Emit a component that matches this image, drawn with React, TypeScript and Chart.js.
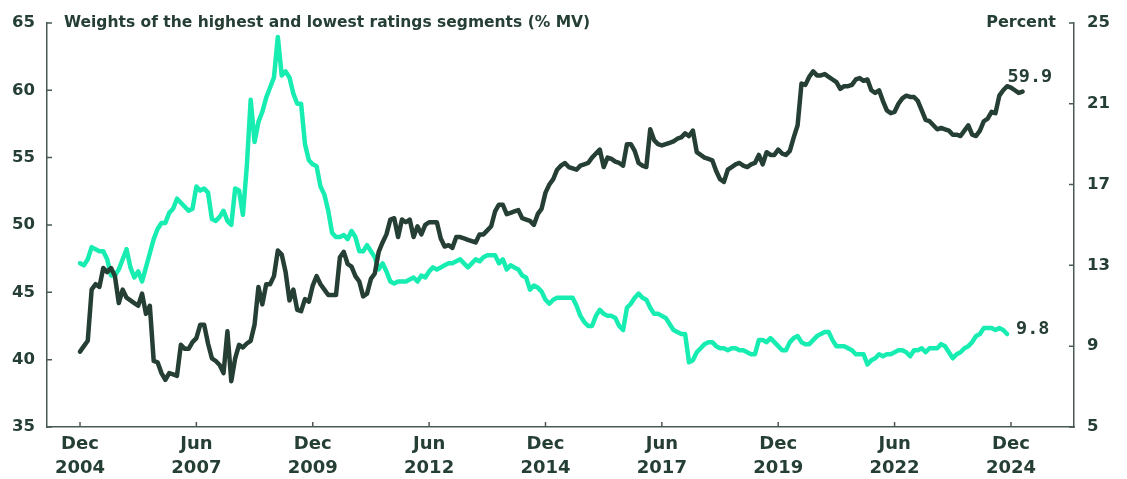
import React, { useEffect, useRef } from "react";
import { Chart, registerables } from "chart.js";

Chart.register(...registerables);

// Month offsets are counted from Dec 2004 (= 0)
const highestRatingsWeights = [
  40.6, 41.0, 41.4, 45.2, 45.6, 45.4, 46.8, 46.5, 46.8, 46.2,
  44.2, 45.2, 44.6, 44.4, 44.2, 44.0, 44.9, 43.4, 44.0, 39.9,
  39.8, 39.0, 38.5, 39.0, 38.9, 38.8, 41.1, 40.8, 40.8, 41.3,
  41.6, 42.6, 42.6, 41.2, 40.1, 39.9, 39.6, 39.0, 42.1, 38.4,
  40.1, 41.1, 40.9, 41.2, 41.4, 42.6, 45.4, 44.1, 45.6, 45.6,
  46.2, 48.1, 47.8, 46.5, 44.4, 45.2, 43.7, 43.6, 44.5, 44.3,
  45.5, 46.2, 45.6, 45.2, 44.8, 44.8, 44.8, 47.6, 48.0, 47.1,
  46.9, 46.2, 45.8, 44.7, 44.9, 46.0, 46.4, 48.0, 48.7, 49.3,
  50.4, 50.5, 49.1, 50.4, 50.2, 50.4, 49.1, 49.9, 49.3, 50.0,
  50.2, 50.2, 50.2, 49.0, 48.4, 48.5, 48.3, 49.1, 49.1, 49.0,
  48.9, 48.8, 48.7, 49.3, 49.3, 49.6, 49.9, 51.0, 51.5, 51.5,
  50.8, 50.9, 51.0, 51.1, 50.5, 50.4, 50.3, 50.0, 50.8, 51.2,
  52.4, 53.0, 53.4, 54.1, 54.4, 54.6, 54.3, 54.2, 54.1, 54.4,
  54.5, 54.6, 55.0, 55.3, 55.6, 54.3, 55.0, 54.9, 54.7, 54.6,
  54.4, 56.0, 56.0, 55.5, 54.6, 54.4, 54.3, 57.1, 56.3, 56.0,
  55.9, 56.0, 56.1, 56.2, 56.4, 56.5, 56.8, 56.6, 57.0, 55.4,
  55.2, 55.0, 54.9, 54.8, 54.0, 53.4, 53.2, 54.1, 54.3, 54.5,
  54.6, 54.4, 54.3, 54.5, 54.6, 55.2, 54.5, 55.4, 55.2, 55.2,
  55.6, 55.3, 55.2, 55.5, 56.5, 57.4, 60.5, 60.4, 61.0, 61.4,
  61.1, 61.1, 61.2, 61.0, 60.8, 60.6, 60.1, 60.3, 60.3, 60.4,
  60.8, 60.9, 60.7, 60.8, 60.0, 59.8, 60.0, 59.2, 58.5, 58.3,
  58.4, 59.0, 59.4, 59.6, 59.5, 59.5, 59.2, 58.5, 57.8, 57.7,
  57.4, 57.1, 57.2, 57.1, 57.0, 56.7, 56.7, 56.6, 57.0, 57.4,
  56.7, 56.6, 57.0, 57.7, 57.9, 58.4, 58.3, 59.6, 60.0, 60.3,
  60.2, 60.0, 59.8, 59.9,
];

const lowestRatingsWeights = [
  13.1, 13.0, 13.3, 13.9, 13.8, 13.7, 13.7, 13.3, 12.5, 12.5,
  12.8, 13.3, 13.8, 12.9, 12.4, 12.7, 12.2, 12.9, 13.6, 14.3,
  14.8, 15.1, 15.1, 15.6, 15.8, 16.3, 16.1, 15.9, 15.7, 15.8,
  16.9, 16.7, 16.8, 16.6, 15.3, 15.2, 15.4, 15.7, 15.2, 15.0,
  16.8, 16.7, 15.5, 17.9, 21.2, 19.1, 20.1, 20.6, 21.3, 21.8,
  22.3, 24.3, 22.4, 22.6, 22.3, 21.5, 21.0, 21.0, 19.0, 18.2,
  18.0, 17.9, 16.9, 16.5, 15.7, 14.6, 14.4, 14.4, 14.5, 14.3,
  14.7, 14.4, 13.7, 13.7, 14.0, 13.7, 13.4, 12.8, 13.1, 12.7,
  12.2, 12.1, 12.2, 12.2, 12.2, 12.3, 12.4, 12.2, 12.5, 12.4,
  12.7, 12.9, 12.8, 12.9, 13.0, 13.1, 13.1, 13.2, 13.3, 13.1,
  12.9, 13.1, 13.3, 13.2, 13.4, 13.5, 13.5, 13.5, 13.1, 13.3,
  12.8, 13.0, 12.9, 12.8, 12.5, 12.4, 11.8, 12.0, 11.9, 11.7,
  11.3, 11.1, 11.3, 11.4, 11.4, 11.4, 11.4, 11.4, 11.0, 10.5,
  10.2, 10.0, 10.0, 10.5, 10.8, 10.6, 10.5, 10.5, 10.4, 10.0,
  9.8, 10.9, 11.1, 11.4, 11.6, 11.4, 11.3, 10.9, 10.6, 10.6,
  10.5, 10.4, 10.1, 9.8, 9.7, 9.6, 9.6, 8.2, 8.3, 8.7,
  8.9, 9.1, 9.2, 9.2, 9.0, 8.9, 8.9, 8.8, 8.9, 8.9,
  8.8, 8.8, 8.7, 8.6, 8.6, 9.3, 9.3, 9.2, 9.4, 9.2,
  9.0, 8.8, 8.8, 9.2, 9.4, 9.5, 9.2, 9.1, 9.1, 9.3,
  9.5, 9.6, 9.7, 9.7, 9.3, 9.0, 9.0, 9.0, 8.9, 8.8,
  8.6, 8.6, 8.6, 8.1, 8.3, 8.4, 8.6, 8.5, 8.6, 8.6,
  8.7, 8.8, 8.8, 8.7, 8.5, 8.8, 8.8, 8.9, 8.7, 8.9,
  8.9, 8.9, 9.1, 9.0, 8.7, 8.4, 8.6, 8.7, 8.9, 9.0,
  9.2, 9.5, 9.6, 9.9, 9.9, 9.9, 9.8, 9.9, 9.8, 9.6,
];

const xTickMonths = [0, 30, 60, 90, 120, 150, 180, 210, 240];
const xTickLabels = [
  ["Dec", "2004"], ["Jun", "2007"], ["Dec", "2009"], ["Jun", "2012"],
  ["Dec", "2014"], ["Jun", "2017"], ["Dec", "2019"], ["Jun", "2022"],
  ["Dec", "2024"],
];
const leftTicks = [35, 40, 45, 50, 55, 60, 65];
const rightTicks = [5, 9, 13, 17, 21, 25];

const titleText = "Weights of the highest and lowest ratings segments (% MV)";
const rightAxisTitle = "Percent";
const highestEndLabel = "59.9";
const lowestEndLabel = "9.8";

const DARK = "#263f35";
const MINT = "#17ecb1";
const AXIS = "#4a5a53";

export default function App() {
  const ref = useRef<HTMLCanvasElement | null>(null);

  useEffect(() => {
    if (!ref.current) return;

    const overlay = {
      id: "overlay",
      afterDraw(chart: any) {
        const ctx = chart.ctx;
        const x = chart.scales.x;
        const yl = chart.scales.y;
        const yr = chart.scales.y1;
        const area = chart.chartArea;
        ctx.save();
        ctx.strokeStyle = AXIS;
        ctx.lineWidth = 1.5;
        ctx.beginPath();
        leftTicks.forEach((v) => {
          const py = yl.getPixelForValue(v);
          ctx.moveTo(area.left, py);
          ctx.lineTo(area.left + 5, py);
        });
        rightTicks.forEach((v) => {
          const py = yr.getPixelForValue(v);
          ctx.moveTo(area.right, py);
          ctx.lineTo(area.right - 5, py);
        });
        xTickMonths.forEach((m) => {
          const px = x.getPixelForValue(m);
          ctx.moveTo(px, area.bottom);
          ctx.lineTo(px, area.bottom - 5);
        });
        ctx.stroke();

        ctx.fillStyle = DARK;
        ctx.textBaseline = "alphabetic";
        ctx.font = "bold 15.5px 'DejaVu Sans'";
        ctx.textAlign = "left";
        ctx.fillText(titleText, 64, 27);
        ctx.textAlign = "right";
        ctx.font = "bold 16px 'DejaVu Sans'";
        ctx.fillText(rightAxisTitle, 1056, 27);

        ctx.font = "bold 18.5px 'DejaVu Sans Mono'";
        ctx.textAlign = "left";
        const hi = highestRatingsWeights.length - 1;
        const hx = x.getPixelForValue(hi);
        const hy = yl.getPixelForValue(highestRatingsWeights[hi]);
        ctx.fillText(highestEndLabel, hx - 15, hy - 10);
        const lo = lowestRatingsWeights.length - 1;
        const lx = x.getPixelForValue(lo);
        const ly = yr.getPixelForValue(lowestRatingsWeights[lo]);
        ctx.fillText(lowestEndLabel, lx + 9, ly);
        ctx.restore();
      },
    };

    const tickFont = { family: "'DejaVu Sans'", weight: "bold" as const, size: 16.5 };

    const chart = new Chart(ref.current, {
      type: "line",
      data: {
        datasets: [
          {
            label: "Highest ratings",
            data: highestRatingsWeights.map((v, i) => ({ x: i, y: v })),
            yAxisID: "y",
            borderColor: DARK,
            borderWidth: 4.5,
            pointRadius: 0,
            tension: 0,
            borderJoinStyle: "round",
            borderCapStyle: "round",
            order: 0,
          },
          {
            label: "Lowest ratings",
            data: lowestRatingsWeights.map((v, i) => ({ x: i, y: v })),
            yAxisID: "y1",
            borderColor: MINT,
            borderWidth: 4.5,
            pointRadius: 0,
            tension: 0,
            borderJoinStyle: "round",
            borderCapStyle: "round",
            order: 1,
          },
        ],
      },
      options: {
        responsive: false,
        animation: false,
        layout: { padding: { top: 19, left: 0, right: 0, bottom: 0 } },
        plugins: { legend: { display: false }, tooltip: { enabled: false }, title: { display: false } },
        scales: {
          x: {
            type: "linear",
            min: -8.51,
            max: 256.25,
            grid: { display: false, drawTicks: false },
            border: { display: true, color: AXIS, width: 1.5 },
            afterBuildTicks: (s: any) => {
              s.ticks = xTickMonths.map((v) => ({ value: v }));
            },
            afterFit: (s: any) => {
              s.height = 52;
            },
            ticks: {
              autoSkip: false,
              maxRotation: 0,
              padding: 6,
              color: DARK,
              font: { family: "'DejaVu Sans'", weight: "bold", size: 18, lineHeight: 1.3 },
              callback: (value: any) => {
                const i = xTickMonths.indexOf(Number(value));
                return i >= 0 ? xTickLabels[i] : "";
              },
            },
          },
          y: {
            position: "left",
            min: 35,
            max: 65,
            grid: { display: false, drawTicks: false },
            border: { display: true, color: AXIS, width: 1.5 },
            afterBuildTicks: (s: any) => {
              s.ticks = leftTicks.map((v) => ({ value: v }));
            },
            afterFit: (s: any) => {
              s.width = 47;
            },
            ticks: { padding: 12, color: DARK, font: tickFont },
          },
          y1: {
            position: "right",
            min: 5,
            max: 25,
            grid: { display: false, drawTicks: false },
            border: { display: true, color: AXIS, width: 1.5 },
            afterBuildTicks: (s: any) => {
              s.ticks = rightTicks.map((v) => ({ value: v }));
            },
            afterFit: (s: any) => {
              s.width = 53;
            },
            ticks: { padding: 13, color: DARK, font: tickFont },
          },
        },
      } as any,
      plugins: [overlay],
    });

    return () => chart.destroy();
  }, []);

  return (
    <div style={{ position: "absolute", left: 0, top: 0, width: 1127, height: 479, background: "#fff" }}>
      <canvas ref={ref} width={1127} height={479} style={{ display: "block" }} />
    </div>
  );
}
